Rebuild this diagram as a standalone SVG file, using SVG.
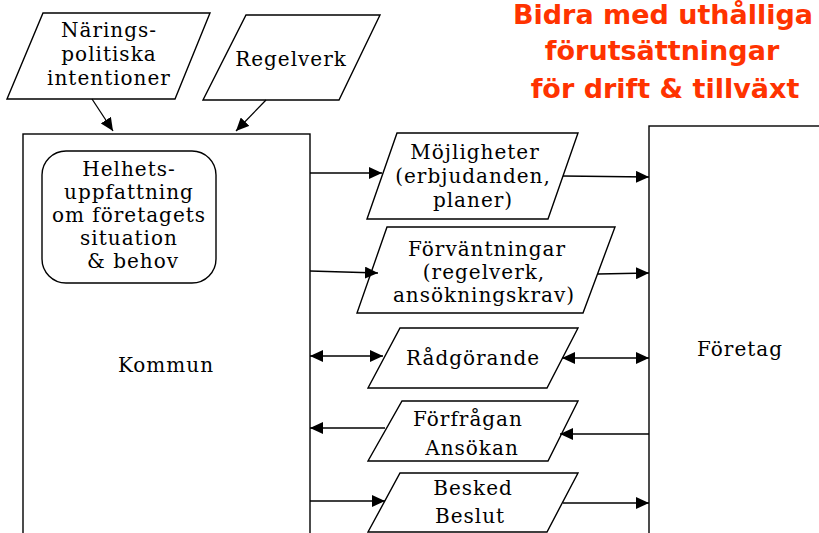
<svg xmlns="http://www.w3.org/2000/svg" width="819" height="533" viewBox="0 0 819 533">
  <style>
    .shape { fill: #ffffff; stroke: #000000; stroke-width: 1.4; }
    .label { font-family: "DejaVu Serif", "Liberation Serif", serif; font-size: 20px; letter-spacing: 1px; fill: #000000; text-anchor: middle; }
    .title { font-family: "DejaVu Sans", "Liberation Sans", sans-serif; font-size: 27px; font-weight: bold; fill: #ff3300; text-anchor: middle; }
    .conn { fill: none; stroke: #000000; stroke-width: 1.3; }
  </style>
  <defs>
    <marker id="arrow" markerUnits="userSpaceOnUse" markerWidth="14" markerHeight="12" refX="13" refY="6" orient="auto-start-reverse">
      <path d="M0,0 L13,6 L0,12 Z" fill="#000000"/>
    </marker>
  </defs>
  <rect width="819" height="533" fill="#ffffff"/>

  <!-- heading -->
  <g id="heading">
    <text class="title" x="663" y="24">Bidra med uthålliga</text>
    <text class="title" x="662" y="60">förutsättningar</text>
    <text class="title" x="665" y="98">för drift &amp; tillväxt</text>
  </g>

  <!-- inputs -->
  <g id="naringspolitiska">
    <polygon class="shape" points="43,13 210,13 175,99 7,99"/>
    <text class="label" x="109" y="37">Närings-</text>
    <text class="label" x="109" y="61">politiska</text>
    <text class="label" x="109" y="85">intentioner</text>
  </g>
  <g id="regelverk">
    <polygon class="shape" points="246,15 380,15 339,100 203,100"/>
    <text class="label" x="291" y="66">Regelverk</text>
  </g>

  <!-- Kommun -->
  <g id="kommun">
    <rect class="shape" x="23" y="134" width="287" height="420"/>
    <text class="label" x="166" y="372">Kommun</text>
  </g>
  <g id="helhet">
    <rect class="shape" x="42" y="151" width="174" height="132" rx="24" ry="24"/>
    <text class="label" x="129" y="176">Helhets-</text>
    <text class="label" x="129" y="199">uppfattning</text>
    <text class="label" x="129" y="222">om företagets</text>
    <text class="label" x="129" y="245">situation</text>
    <text class="label" x="133" y="268">&amp; behov</text>
  </g>

  <!-- Företag -->
  <g id="foretag">
    <rect class="shape" x="649" y="126" width="200" height="430"/>
    <text class="label" x="740" y="356">Företag</text>
  </g>

  <!-- flows -->
  <g id="mojligheter">
    <polygon class="shape" points="397,133 578,133 548,219 367,219"/>
    <text class="label" x="475" y="159">Möjligheter</text>
    <text class="label" x="473" y="183">(erbjudanden,</text>
    <text class="label" x="473" y="207">planer)</text>
  </g>
  <g id="forvantningar">
    <polygon class="shape" points="387,227 615,227 583,313 357,313"/>
    <text class="label" x="487" y="256">Förväntningar</text>
    <text class="label" x="484" y="279">(regelverk,</text>
    <text class="label" x="484" y="302">ansökningskrav)</text>
  </g>
  <g id="radgorande">
    <polygon class="shape" points="400,328 578,328 547,388 368,388"/>
    <text class="label" x="473" y="365">Rådgörande</text>
  </g>
  <g id="forfragan">
    <polygon class="shape" points="402,401 578,401 548,461 368,461"/>
    <text class="label" x="468" y="426">Förfrågan</text>
    <text class="label" x="472" y="455">Ansökan</text>
  </g>
  <g id="besked">
    <polygon class="shape" points="400,473 578,473 547,532 368,532"/>
    <text class="label" x="473" y="495">Besked</text>
    <text class="label" x="470" y="523">Beslut</text>
  </g>

  <!-- connectors -->
  <g id="connectors">
    <line class="conn" x1="92" y1="99" x2="113" y2="131" marker-end="url(#arrow)"/>
    <line class="conn" x1="266" y1="100" x2="236" y2="131" marker-end="url(#arrow)"/>

    <line class="conn" x1="310" y1="173" x2="382" y2="173" marker-end="url(#arrow)"/>
    <line class="conn" x1="563" y1="176" x2="649" y2="177" marker-end="url(#arrow)"/>

    <line class="conn" x1="310" y1="271" x2="378" y2="273" marker-end="url(#arrow)"/>
    <line class="conn" x1="598" y1="274" x2="649" y2="273" marker-end="url(#arrow)"/>

    <line class="conn" x1="310" y1="356" x2="383" y2="356" marker-start="url(#arrow)" marker-end="url(#arrow)"/>
    <line class="conn" x1="562" y1="358" x2="649" y2="358" marker-start="url(#arrow)" marker-end="url(#arrow)"/>

    <line class="conn" x1="385" y1="428" x2="310" y2="428" marker-end="url(#arrow)"/>
    <line class="conn" x1="649" y1="434" x2="560" y2="434" marker-end="url(#arrow)"/>

    <line class="conn" x1="310" y1="501" x2="385" y2="501" marker-end="url(#arrow)"/>
    <line class="conn" x1="563" y1="503" x2="649" y2="503" marker-end="url(#arrow)"/>
  </g>
</svg>
